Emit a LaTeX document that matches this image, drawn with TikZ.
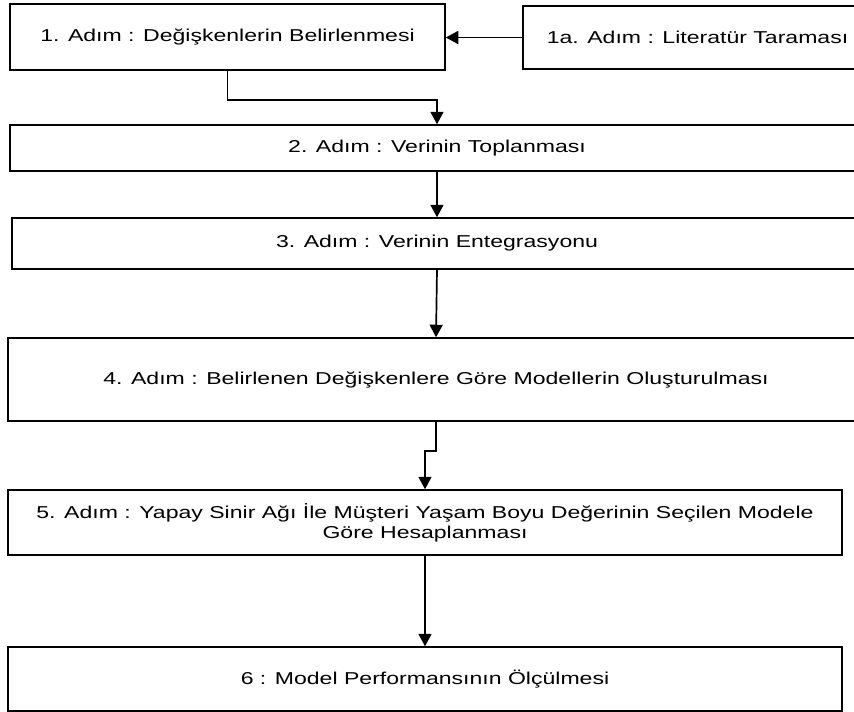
\documentclass[tikz,border=0pt]{standalone}
\usepackage{fontspec}
\setmainfont{Liberation Sans}[FakeStretch=1.34]
\usetikzlibrary{arrows.meta}

\begin{document}
\begin{tikzpicture}[x=1pt,y=-1pt,
  stepbox/.style={draw=black,line width=1.5pt,inner sep=0pt,align=center,
    font=\fontsize{17.2}{20}\selectfont},
  flow/.style={line width=1.7pt,-{Triangle[length=12.5pt,width=13pt]}}]
  \useasboundingbox (0,0) rectangle (854,712);

  % process steps
  \node[stepbox,minimum width=435pt,minimum height=66pt] (b1) at (227.5,37) {1. Adım : Değişkenlerin Belirlenmesi};
  \node[stepbox,minimum width=349pt,minimum height=63pt] (b1a) at (697.5,37.5) {1a. Adım : Literatür Taraması};
  \node[stepbox,minimum width=854pt,minimum height=46pt] (b2) at (437,148) {2. Adım : Verinin Toplanması};
  \node[stepbox,minimum width=850pt,minimum height=51pt] (b3) at (437,243.5) {3. Adım : Verinin Entegrasyonu};
  \node[stepbox,minimum width=856pt,minimum height=83pt] (b4) at (436,379.5) {4. Adım : Belirlenen Değişkenlere Göre Modellerin Oluşturulması};
  \node[stepbox,minimum width=834pt,minimum height=65pt] (b5) at (425,522.5) {5. Adım : Yapay Sinir Ağı İle Müşteri Yaşam Boyu Değerinin Seçilen Modele\\Göre Hesaplanması};
  \node[stepbox,minimum width=834pt,minimum height=64pt] (b6) at (425,679) {6 : Model Performansının Ölçülmesi};

  % connectors
  \draw[flow] (b1a.west) -- (b1.east |- b1a.west);
  \draw[flow] (b1.south) -- ++(0,29) -| (b2.north);
  \draw[flow] (b2.south) -- (b3.north);
  \draw[flow] (b3.south) -- (b4.north);
  \draw[flow] (b4.south) -- ++(0,29) -| (b5.north);
  \draw[flow] (b5.south) -- (b6.north);
\end{tikzpicture}
\end{document}
